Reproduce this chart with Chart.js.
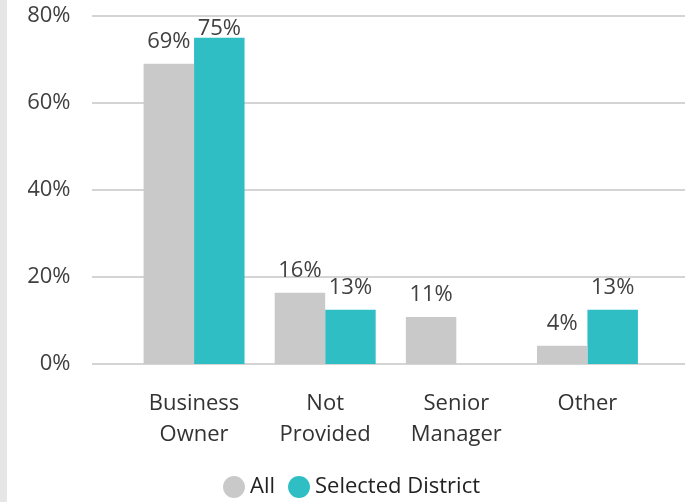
<!DOCTYPE html>
<html>
<head>
<meta charset="utf-8">
<script src="https://cdn.jsdelivr.net/npm/chart.js@4.4.0/dist/chart.umd.min.js"></script>
<style>
  body { margin: 0; background: #fff; }
  .strip { position: absolute; left: 0; top: 0; width: 7px; height: 502px; background: #e6e6e6; }
  #wrap { position: absolute; left: 0; top: 0; width: 685px; height: 502px; }
</style>
</head>
<body>
<div class="strip"></div>
<div id="wrap"><canvas id="chart" width="685" height="502"></canvas></div>
<script>
const categories = [["Business", "Owner"], ["Not", "Provided"], ["Senior", "Manager"], ["Other"]];
const allValues = [69, 16.4, 10.8, 4.2];
const districtValues = [75, 12.5, 0, 12.5];
const yTicks = [0, 20, 40, 60, 80];

const FONT = "'Open Sans', 'Noto Sans', sans-serif";

// horizontal gridlines run past the plot on both sides, like the original
const wideGrid = {
  id: "wideGrid",
  beforeDatasetsDraw(chart) {
    const ctx = chart.ctx;
    const y = chart.scales.y;
    ctx.save();
    ctx.strokeStyle = "#d4d4d4";
    ctx.lineWidth = 2;
    yTicks.forEach(v => {
      const py = Math.round(y.getPixelForValue(v));
      ctx.beginPath();
      ctx.moveTo(92, py);
      ctx.lineTo(chart.width, py);
      ctx.stroke();
    });
    ctx.restore();
  }
};

const barLabels = {
  id: "barLabels",
  afterDatasetsDraw(chart) {
    const ctx = chart.ctx;
    ctx.save();
    ctx.font = "22px " + FONT;
    ctx.fillStyle = "#404040";
    ctx.textAlign = "center";
    ctx.textBaseline = "alphabetic";
    chart.data.datasets.forEach((ds, i) => {
      chart.getDatasetMeta(i).data.forEach((bar, j) => {
        const v = ds.data[j];
        if (!v) return;
        const y = Math.max(bar.y - 16, chart.chartArea.top + 19);
        ctx.fillText(Math.round(v) + "%", bar.x, y);
      });
    });
    ctx.restore();
  }
};

// legend sits a bit right of the canvas centre in the original
const legendNudge = {
  id: "legendNudge",
  afterLayout(chart) {
    chart.legend.left += 14;
    chart.legend.right += 14;
  }
};

new Chart(document.getElementById("chart"), {
  type: "bar",
  data: {
    labels: categories,
    datasets: [
      { label: "All", data: allValues, backgroundColor: "#c9c9c9" },
      { label: "Selected District", data: districtValues, backgroundColor: "#2ebec3" }
    ]
  },
  options: {
    responsive: false,
    animation: false,
    datasets: { bar: { categoryPercentage: 0.77, barPercentage: 1.0 } },
    layout: { padding: { left: 28, right: 32, top: 16, bottom: -6 } },
    scales: {
      x: {
        grid: { display: false, drawTicks: false },
        border: { display: false },
        afterFit: s => { s.paddingLeft = 0; s.paddingRight = 0; s.height = 93; },
        ticks: { color: "#333", padding: 24.5, font: { family: FONT, size: 22, lineHeight: 1.41 } }
      },
      y: {
        min: 0, max: 80,
        grid: { display: false, drawTicks: false },
        border: { display: false },
        afterBuildTicks: s => { s.ticks = yTicks.map(v => ({ value: v })); },
        afterFit: s => { s.paddingTop = 0; s.paddingBottom = 0; s.width = 100.5; },
        ticks: { color: "#404040", padding: 58, callback: v => v + "%", font: { family: FONT, size: 22 } }
      }
    },
    plugins: {
      tooltip: { enabled: false },
      legend: {
        position: "bottom",
        labels: {
          usePointStyle: true,
          pointStyle: "circle",
          boxWidth: 10,
          boxHeight: 15.5,
          padding: 19,
          color: "#222",
          font: { family: FONT, size: 22 }
        }
      }
    }
  },
  plugins: [wideGrid, barLabels, legendNudge]
});
</script>
</body>
</html>
